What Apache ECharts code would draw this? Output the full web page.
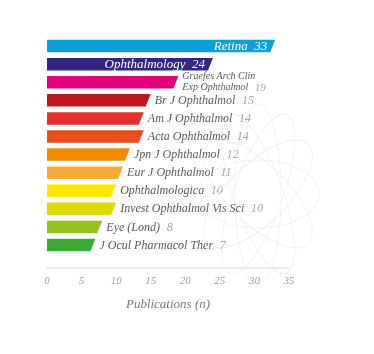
<!DOCTYPE html>
<html>
<head>
<meta charset="utf-8">
<script src="https://cdn.jsdelivr.net/npm/echarts@6/dist/echarts.min.js"></script>
<style>
    html, body { margin: 0; padding: 0; background: #fff; }
    #chart { width: 374px; height: 354px; }
</style>
</head>
<body>
<div id="chart"></div>
<script>
    // journals, top to bottom
    const journals = [
        'Retina', 'Ophthalmology', 'Graefes Arch Clin\nExp Ophthalmol', 'Br J Ophthalmol',
        'Am J Ophthalmol', 'Acta Ophthalmol', 'Jpn J Ophthalmol', 'Eur J Ophthalmol',
        'Ophthalmologica', 'Invest Ophthalmol Vis Sci', 'Eye (Lond)', 'J Ocul Pharmacol Ther'
    ];
    const publications = [33, 24, 19, 15, 14, 14, 12, 11, 10, 10, 8, 7];
    const barColors = [
        '#0e9fdb', '#312682', '#e4007c', '#bd1622', '#e3302b', '#e84e1c',
        '#ef8b00', '#f6a935', '#fde700', '#dedb00', '#95c11f', '#3aaa35'
    ];
    const xTicks = [0, 5, 10, 15, 20, 25, 30, 35];
    const insideCount = 2; // first bars carry white labels inside

    const serif = 'Liberation Serif';
    const chart = echarts.init(document.getElementById('chart'));

    // faint rosette in the background
    const rosette = [];
    for (let i = 0; i < 6; i++) {
        rosette.push({
            type: 'ellipse',
            shape: { cx: 0, cy: 0, rx: 90, ry: 34 },
            rotation: i * Math.PI / 6,
            style: { fill: 'none', stroke: '#eeeeee', lineWidth: 1 }
        });
    }

    const seriesData = publications.map((v, i) => [v, i]);

    chart.setOption({
        animation: false,
        graphic: [{
            type: 'group',
            x: 258, y: 194,
            scaleX: 0.68,
            silent: true,
            z: -10,
            children: rosette
        }],
        grid: { left: 47, right: 85, top: 37, bottom: 100 },
        xAxis: {
            type: 'value',
            min: 0, max: 35, interval: 5,
            offset: 14,
            splitLine: { show: false },
            axisTick: { show: false },
            axisLine: { show: true, lineStyle: { color: '#e6e6e6', width: 1.5 } },
            axisLabel: {
                color: '#a0a0a0', fontFamily: serif, fontStyle: 'italic', fontSize: 11, margin: 8,
                formatter: v => xTicks.indexOf(v) >= 0 ? String(v) : ''
            },
            name: 'Publications (n)',
            nameLocation: 'middle',
            nameGap: 30,
            nameTextStyle: { color: '#7a7a7a', fontFamily: serif, fontStyle: 'italic', fontSize: 13 }
        },
        yAxis: {
            type: 'category',
            data: journals,
            inverse: true,
            show: false
        },
        series: [{
            type: 'custom',
            data: seriesData,
            encode: { x: 0, y: 1 },
            renderItem: (params, api) => {
                const v = api.value(0);
                const idx = api.value(1);
                const end = api.coord([v, idx]);
                const start = api.coord([0, idx]);
                const h = 12.5;
                const slant = 5;
                const top = end[1] - h / 2, bot = end[1] + h / 2;
                const poly = {
                    type: 'polygon',
                    shape: { points: [[start[0], top], [end[0], top], [end[0] - slant, bot], [start[0], bot]] },
                    style: { fill: barColors[idx] }
                };
                const name = journals[idx];
                let text;
                if (idx < insideCount) {
                    text = {
                        type: 'text',
                        x: end[0] - 8, y: end[1] + 0.5,
                        style: {
                            text: name + '  ' + v,
                            fill: '#fff', fontFamily: serif, fontStyle: 'italic', fontSize: 13,
                            align: 'right', verticalAlign: 'middle'
                        }
                    };
                } else {
                    const small = name.indexOf('\n') >= 0;
                    text = {
                        type: 'text',
                        x: end[0] + 4, y: end[1] + 0.5,
                        style: {
                            text: '{n|' + name.replace('\n', '}\n{n|') + '}  {v|' + v + '}',
                            align: 'left', verticalAlign: 'middle',
                            rich: {
                                n: { fill: '#5a5a5a', fontFamily: serif, fontStyle: 'italic', fontSize: small ? 10 : 12, lineHeight: small ? 10 : 14 },
                                v: { fill: '#a6a6a6', fontFamily: serif, fontStyle: 'italic', fontSize: small ? 11 : 12, lineHeight: small ? 10 : 14 }
                            }
                        }
                    };
                }
                return { type: 'group', children: [poly, text] };
            }
        }]
    });
</script>
</body>
</html>
